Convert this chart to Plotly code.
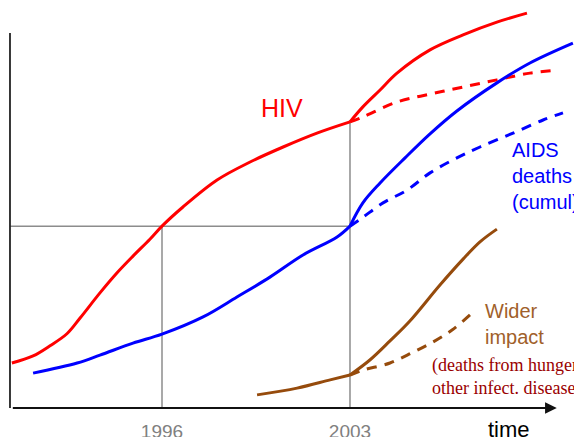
import plotly.graph_objects as go

# ---- data (years, index units) ----
hiv_years = [1990.41, 1991.20, 1991.83, 1992.46, 1992.95, 1993.69, 1994.32, 1994.92, 1995.55, 1996.00,
             1996.78, 1998.05, 1999.28, 2000.51, 2001.77, 2003.00, 2003.48, 2004.12, 2004.75, 2005.98,
             2007.21, 2008.47, 2009.59]
hiv_values = [12.0, 13.9, 16.6, 19.8, 24.0, 30.7, 36.0, 40.5, 45.0, 48.5,
              53.6, 60.8, 65.6, 69.6, 73.3, 76.3, 80.3, 84.8, 89.3, 95.5,
              99.5, 102.9, 105.3]

hiv_alt_years = [2003.00, 2003.48, 2004.75, 2005.98, 2007.21, 2008.47, 2009.70, 2010.74]
hiv_alt_values = [76.3, 77.6, 81.6, 83.7, 85.6, 87.5, 89.3, 90.1]

aids_years = [1991.20, 1992.84, 1993.69, 1994.92, 1996.00, 1997.53, 1998.79, 2000.02, 2001.25, 2002.52,
              2003.00, 2003.48, 2004.12, 2005.05, 2005.98, 2006.98, 2008.47, 2009.70, 2011.30]
aids_values = [9.3, 12.0, 14.1, 17.3, 19.7, 24.3, 29.6, 34.9, 40.8, 45.6,
               48.5, 54.7, 60.0, 66.7, 73.1, 79.2, 86.7, 92.0, 97.3]

aids_alt_years = [2003.00, 2003.45, 2004.23, 2005.12, 2005.98, 2006.98, 2007.84, 2009.07, 2010.19, 2010.93]
aids_alt_values = [48.5, 50.7, 54.7, 58.1, 62.7, 66.7, 69.6, 73.3, 76.8, 78.7]

wider_years = [1999.54, 2001.03, 2002.26, 2003.00, 2003.74, 2004.49, 2005.23, 2006.35, 2007.21, 2007.84, 2008.47]
wider_values = [3.5, 5.3, 7.5, 8.8, 12.8, 17.9, 23.2, 32.8, 39.7, 44.3, 47.7]

wider_alt_years = [2003.00, 2003.48, 2004.49, 2005.35, 2006.09, 2006.80, 2007.54]
wider_alt_values = [8.8, 10.1, 12.0, 14.9, 17.6, 20.8, 25.3]

tick_years = [1996, 2003]
tick_labels = ["1996", "2003"]

RED = "#ff0000"
BLUE = "#0000ff"
BROWN = "#964b0c"
GREY = "#8c8c8c"

x_start = 1990.34
x_end = 2010.70
y_top = 100

hiv_1996 = hiv_values[hiv_years.index(1996.00)]
hiv_2003 = hiv_values[hiv_years.index(2003.00)]

fig = go.Figure()

# guide lines
fig.add_trace(go.Scatter(x=[x_start, tick_years[1]], y=[hiv_1996, hiv_1996], mode="lines",
                         line=dict(color=GREY, width=1.5), hoverinfo="skip"))
fig.add_trace(go.Scatter(x=[tick_years[0], tick_years[0]], y=[0, hiv_1996], mode="lines",
                         line=dict(color=GREY, width=1.5), hoverinfo="skip"))
fig.add_trace(go.Scatter(x=[tick_years[1], tick_years[1]], y=[0, hiv_2003], mode="lines",
                         line=dict(color=GREY, width=1.5), hoverinfo="skip"))

dash = "10px,8px"
fig.add_trace(go.Scatter(x=hiv_alt_years, y=hiv_alt_values, mode="lines",
                         line=dict(color=RED, width=3, dash=dash, shape="spline")))
fig.add_trace(go.Scatter(x=aids_alt_years, y=aids_alt_values, mode="lines",
                         line=dict(color=BLUE, width=3, dash=dash, shape="spline")))
fig.add_trace(go.Scatter(x=wider_alt_years, y=wider_alt_values, mode="lines",
                         line=dict(color=BROWN, width=3, dash=dash, shape="spline")))
fig.add_trace(go.Scatter(x=hiv_years[:16], y=hiv_values[:16], mode="lines",
                         line=dict(color=RED, width=3, shape="spline")))
fig.add_trace(go.Scatter(x=hiv_years[15:], y=hiv_values[15:], mode="lines",
                         line=dict(color=RED, width=3, shape="spline")))
fig.add_trace(go.Scatter(x=aids_years[:11], y=aids_values[:11], mode="lines",
                         line=dict(color=BLUE, width=3, shape="spline")))
fig.add_trace(go.Scatter(x=aids_years[10:], y=aids_values[10:], mode="lines",
                         line=dict(color=BLUE, width=3, shape="spline")))
fig.add_trace(go.Scatter(x=wider_years[:4], y=wider_values[:4], mode="lines",
                         line=dict(color=BROWN, width=3, shape="spline")))
fig.add_trace(go.Scatter(x=wider_years[3:], y=wider_values[3:], mode="lines",
                         line=dict(color=BROWN, width=3, shape="spline")))

# axes drawn by hand
fig.add_shape(type="line", x0=x_start, x1=x_start, y0=0, y1=y_top, xref="x", yref="y",
              line=dict(color="#222222", width=1.8))
fig.add_annotation(x=x_end, y=0, ax=x_start + 0.05, ay=0, xref="x", yref="y", axref="x", ayref="y",
                   showarrow=True, arrowhead=2, arrowsize=1.3, arrowwidth=1.8, arrowcolor="#111111", text="")

fig.add_annotation(x=2000.47, y=80, text="HIV", showarrow=False, xanchor="center", yanchor="middle",
                   font=dict(family="Liberation Sans, Arial", size=25, color=RED))
fig.add_annotation(x=2008.96, y=61.8, text="AIDS<br>deaths<br>(cumul)", showarrow=False, xanchor="left",
                   yanchor="middle", align="left",
                   font=dict(family="Liberation Sans, Arial", size=20, color=BLUE))
fig.add_annotation(x=2007.95, y=22.5, text="Wider<br>impact", showarrow=False, xanchor="left",
                   yanchor="middle", align="left",
                   font=dict(family="Liberation Sans, Arial", size=20, color="#a0602a"))
fig.add_annotation(x=2005.98, y=8.3, text="(deaths from hunger,<br>other infect. diseases)", showarrow=False,
                   xanchor="left", yanchor="middle", align="left",
                   font=dict(family="Liberation Serif, Times New Roman", size=18, color="#9a0000"))
fig.add_annotation(x=2008.92, y=-1.8, text="time", showarrow=False, xanchor="center", yanchor="top",
                   font=dict(family="Liberation Sans, Arial", size=22, color="#000000"))

fig.update_layout(
    width=574, height=437,
    margin=dict(l=0, r=0, t=0, b=0, autoexpand=False),
    paper_bgcolor="white", plot_bgcolor="white",
    showlegend=False,
    xaxis=dict(range=[1989.968, 2011.341], domain=[0, 1], anchor="free", position=(437 - 408) / 437,
               automargin=False,
               tickvals=tick_years, ticktext=tick_labels, ticks="", showgrid=False, zeroline=False,
               showline=False, ticklabelstandoff=10,
               tickfont=dict(family="Liberation Sans, Arial", size=19, color="#808080"),
               fixedrange=True),
    yaxis=dict(range=[-7.733, 108.8], domain=[0, 1], visible=False, showgrid=False, zeroline=False,
               automargin=False, fixedrange=True),
)

fig.write_html("out.html", config={"displayModeBar": False},
               post_script="document.body.style.margin='0';document.documentElement.style.overflow='hidden';")
